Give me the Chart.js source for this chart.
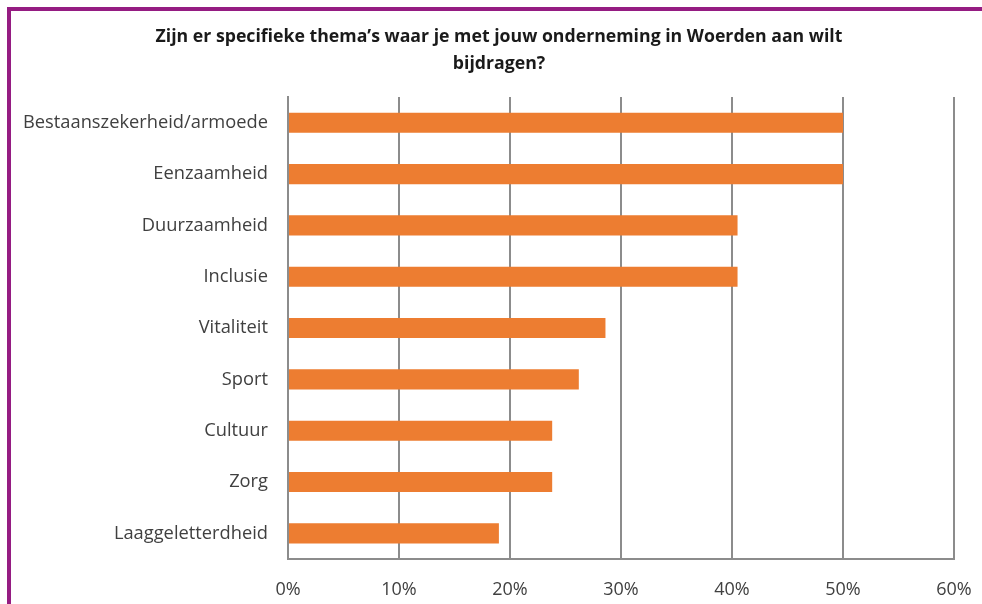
<!DOCTYPE html>
<html>
<head>
<meta charset="utf-8">
<script src="https://cdn.jsdelivr.net/npm/chart.js@4"></script>
<style>
  html, body { margin: 0; padding: 0; background: #fff; }
  #wrap { position: relative; width: 982px; height: 604px; overflow: hidden; }
  #topLine { position: absolute; left: 7px; top: 7px; width: 975px; height: 4px; background: #951c82; }
  #leftLine { position: absolute; left: 7px; top: 7px; width: 4px; height: 597px; background: #951c82; }
  canvas { position: absolute; left: 0; top: 0; }
</style>
</head>
<body>
<div id="wrap">
  <canvas id="grafica" width="982" height="604"></canvas>
  <div id="topLine"></div>
  <div id="leftLine"></div>
</div>
<script>
// thema's, van boven naar onder
let themas = ["Bestaanszekerheid/armoede", "Eenzaamheid", "Duurzaamheid", "Inclusie",
  "Vitaliteit", "Sport", "Cultuur", "Zorg", "Laaggeletterdheid"];
// percentage respondenten
let percentages = [50, 50, 40.5, 40.5, 28.6, 26.2, 23.8, 23.8, 19.0];
let titel = ["Zijn er specifieke thema\u2019s waar je met jouw onderneming in Woerden aan wilt", "bijdragen?"];

let lettertype = "'Open Sans', Lato, sans-serif";

let miCanvas = document.getElementById("grafica").getContext("2d");

// labels links niet afknippen op de layout-padding
let labelRuimte = {
  id: "labelRuimte",
  afterLayout: c => { c.scales.y.left = 0; }
};

var chart = new Chart(miCanvas, {
  type: "bar",
  data: {
    labels: themas,
    datasets: [
      {
        data: percentages,
        backgroundColor: "#ed7d31",
        borderWidth: 0,
        barPercentage: 0.8,
        categoryPercentage: 0.49
      }
    ]
  },
  plugins: [labelRuimte],
  options: {
    indexAxis: "y",
    responsive: false,
    animation: false,
    layout: { padding: { top: 0, left: 44, right: 28, bottom: 0 } },
    plugins: {
      legend: { display: false },
      tooltip: { enabled: false },
      title: {
        display: true,
        text: titel,
        color: "#1a1a1a",
        font: { family: lettertype, size: 17.7, weight: "bold", lineHeight: 1.5 },
        padding: { top: 24, bottom: 20 }
      }
    },
    scales: {
      x: {
        min: 0,
        max: 60,
        ticks: {
          stepSize: 10,
          callback: v => v + "%",
          color: "#404040",
          font: { family: lettertype, size: 18 },
          padding: 20
        },
        grid: { color: "#8c8c8c", lineWidth: 2, drawTicks: false },
        border: { color: "#8c8c8c", width: 2 },
        afterFit: s => { s.height = 45; s.paddingLeft = 0; s.paddingRight = 0; }
      },
      y: {
        ticks: {
          color: "#404040",
          font: { family: lettertype, size: 18.3 },
          padding: 12
        },
        grid: { display: false },
        border: { color: "#8c8c8c", width: 2 },
        afterFit: s => { s.width = 244; }
      }
    }
  }
});
</script>
</body>
</html>
